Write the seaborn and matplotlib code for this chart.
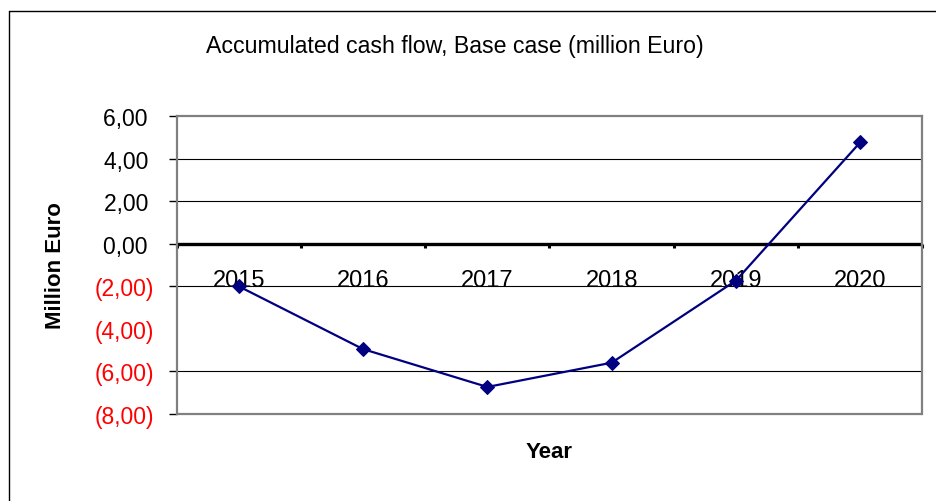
import numpy as np
import pandas as pd
import matplotlib
matplotlib.use("Agg")
import matplotlib.pyplot as plt
from matplotlib.lines import Line2D
import seaborn as sns

# Accumulated cash flow per year, million Euro
years = ["2015", "2016", "2017", "2018", "2019", "2020"]
cash_flow = [-2.00, -4.95, -6.73, -5.59, -1.73, 4.77]

ytick_values = [6, 4, 2, 0, -2, -4, -6, -8]
gridline_values = [4, 2, -2, -6]

title = "Accumulated cash flow, Base case (million Euro)"
ylabel = "Million Euro"
xlabel = "Year"


def money_label(v):
    s = f"{abs(v):.2f}".replace(".", ",")
    return f"({s})" if v < 0 else s + " "


sns.set_style("white")
plt.rcParams["font.family"] = ["Liberation Sans", "DejaVu Sans"]
plt.rcParams.update({"text.color": "black", "axes.labelcolor": "black",
                     "xtick.color": "black", "ytick.color": "black"})

fig = plt.figure(figsize=(9.37, 5.02), dpi=100)
W, H = 937, 502
ax = fig.add_axes([176.5 / W, (H - 415) / H, (922.5 - 176.5) / W, (415 - 117) / H])

pos = np.arange(len(years))
df = pd.DataFrame({"pos": pos, "value": cash_flow})

for g in gridline_values:
    ax.axhline(g, color="black", lw=0.8, zorder=1)

sns.lineplot(data=df, x="pos", y="value", ax=ax, color="#000080", lw=1.6,
             marker="D", markersize=7, markeredgecolor="#000080",
             markerfacecolor="#000080", zorder=3)

ax.set_xlim(-0.5, len(years) - 0.5)
ax.set_ylim(min(ytick_values), max(ytick_values))

# category axis sits on the zero line
ax.spines["bottom"].set_position(("data", 0))
ax.spines["bottom"].set_color("black")
ax.spines["bottom"].set_linewidth(2.4)
ax.spines["bottom"].set_capstyle("butt")
ax.spines["bottom"].set_zorder(2)
for side in ["top", "right", "left"]:
    ax.spines[side].set_color("#808080")
    ax.spines[side].set_linewidth(1.6)
ax.axhline(min(ytick_values), color="#808080", lw=1.6, clip_on=False, zorder=2)

ax.set_xticks(np.arange(len(years) + 1) - 0.5)
ax.set_xticklabels([])
ax.tick_params(axis="x", which="major", direction="out", length=3, width=2.2,
               color="black", bottom=True)
ax.set_xticks(pos, minor=True)
ax.set_xticklabels(years, minor=True)
ax.tick_params(axis="x", which="minor", length=0, pad=18, labelsize=17,
               labelcolor="black")

ax.set_yticks(ytick_values)
ax.set_yticklabels([money_label(v) for v in ytick_values])
ax.tick_params(axis="y", direction="out", length=6, width=1, color="black",
               pad=10, labelsize=16.5, left=True)
for v, lab, tick in zip(ytick_values, ax.get_yticklabels(), ax.yaxis.get_major_ticks()):
    lab.set_color("red" if v < 0 else "black")
    if v == -4:
        tick.tick1line.set_visible(False)

ax.set_xlabel("")
ax.set_ylabel("")
fig.text(55.5 / W, 1 - 266 / H, ylabel, rotation=90, ha="center", va="center",
         fontsize=16, fontweight="bold")
fig.text(549 / W, 1 - 453 / H, xlabel, ha="center", va="center",
         fontsize=16, fontweight="bold")
fig.text(454.5 / W, 1 - 47 / H, title, ha="center", va="center", fontsize=16.7)

# chart frame
fig.add_artist(Line2D([9.5 / W, 9.5 / W], [0, 1 - 11.5 / H], color="black", lw=1,
                      transform=fig.transFigure))
fig.add_artist(Line2D([9.5 / W, 1], [1 - 11.5 / H, 1 - 11.5 / H], color="black", lw=1,
                      transform=fig.transFigure))

fig.savefig("out.png", dpi=100)
